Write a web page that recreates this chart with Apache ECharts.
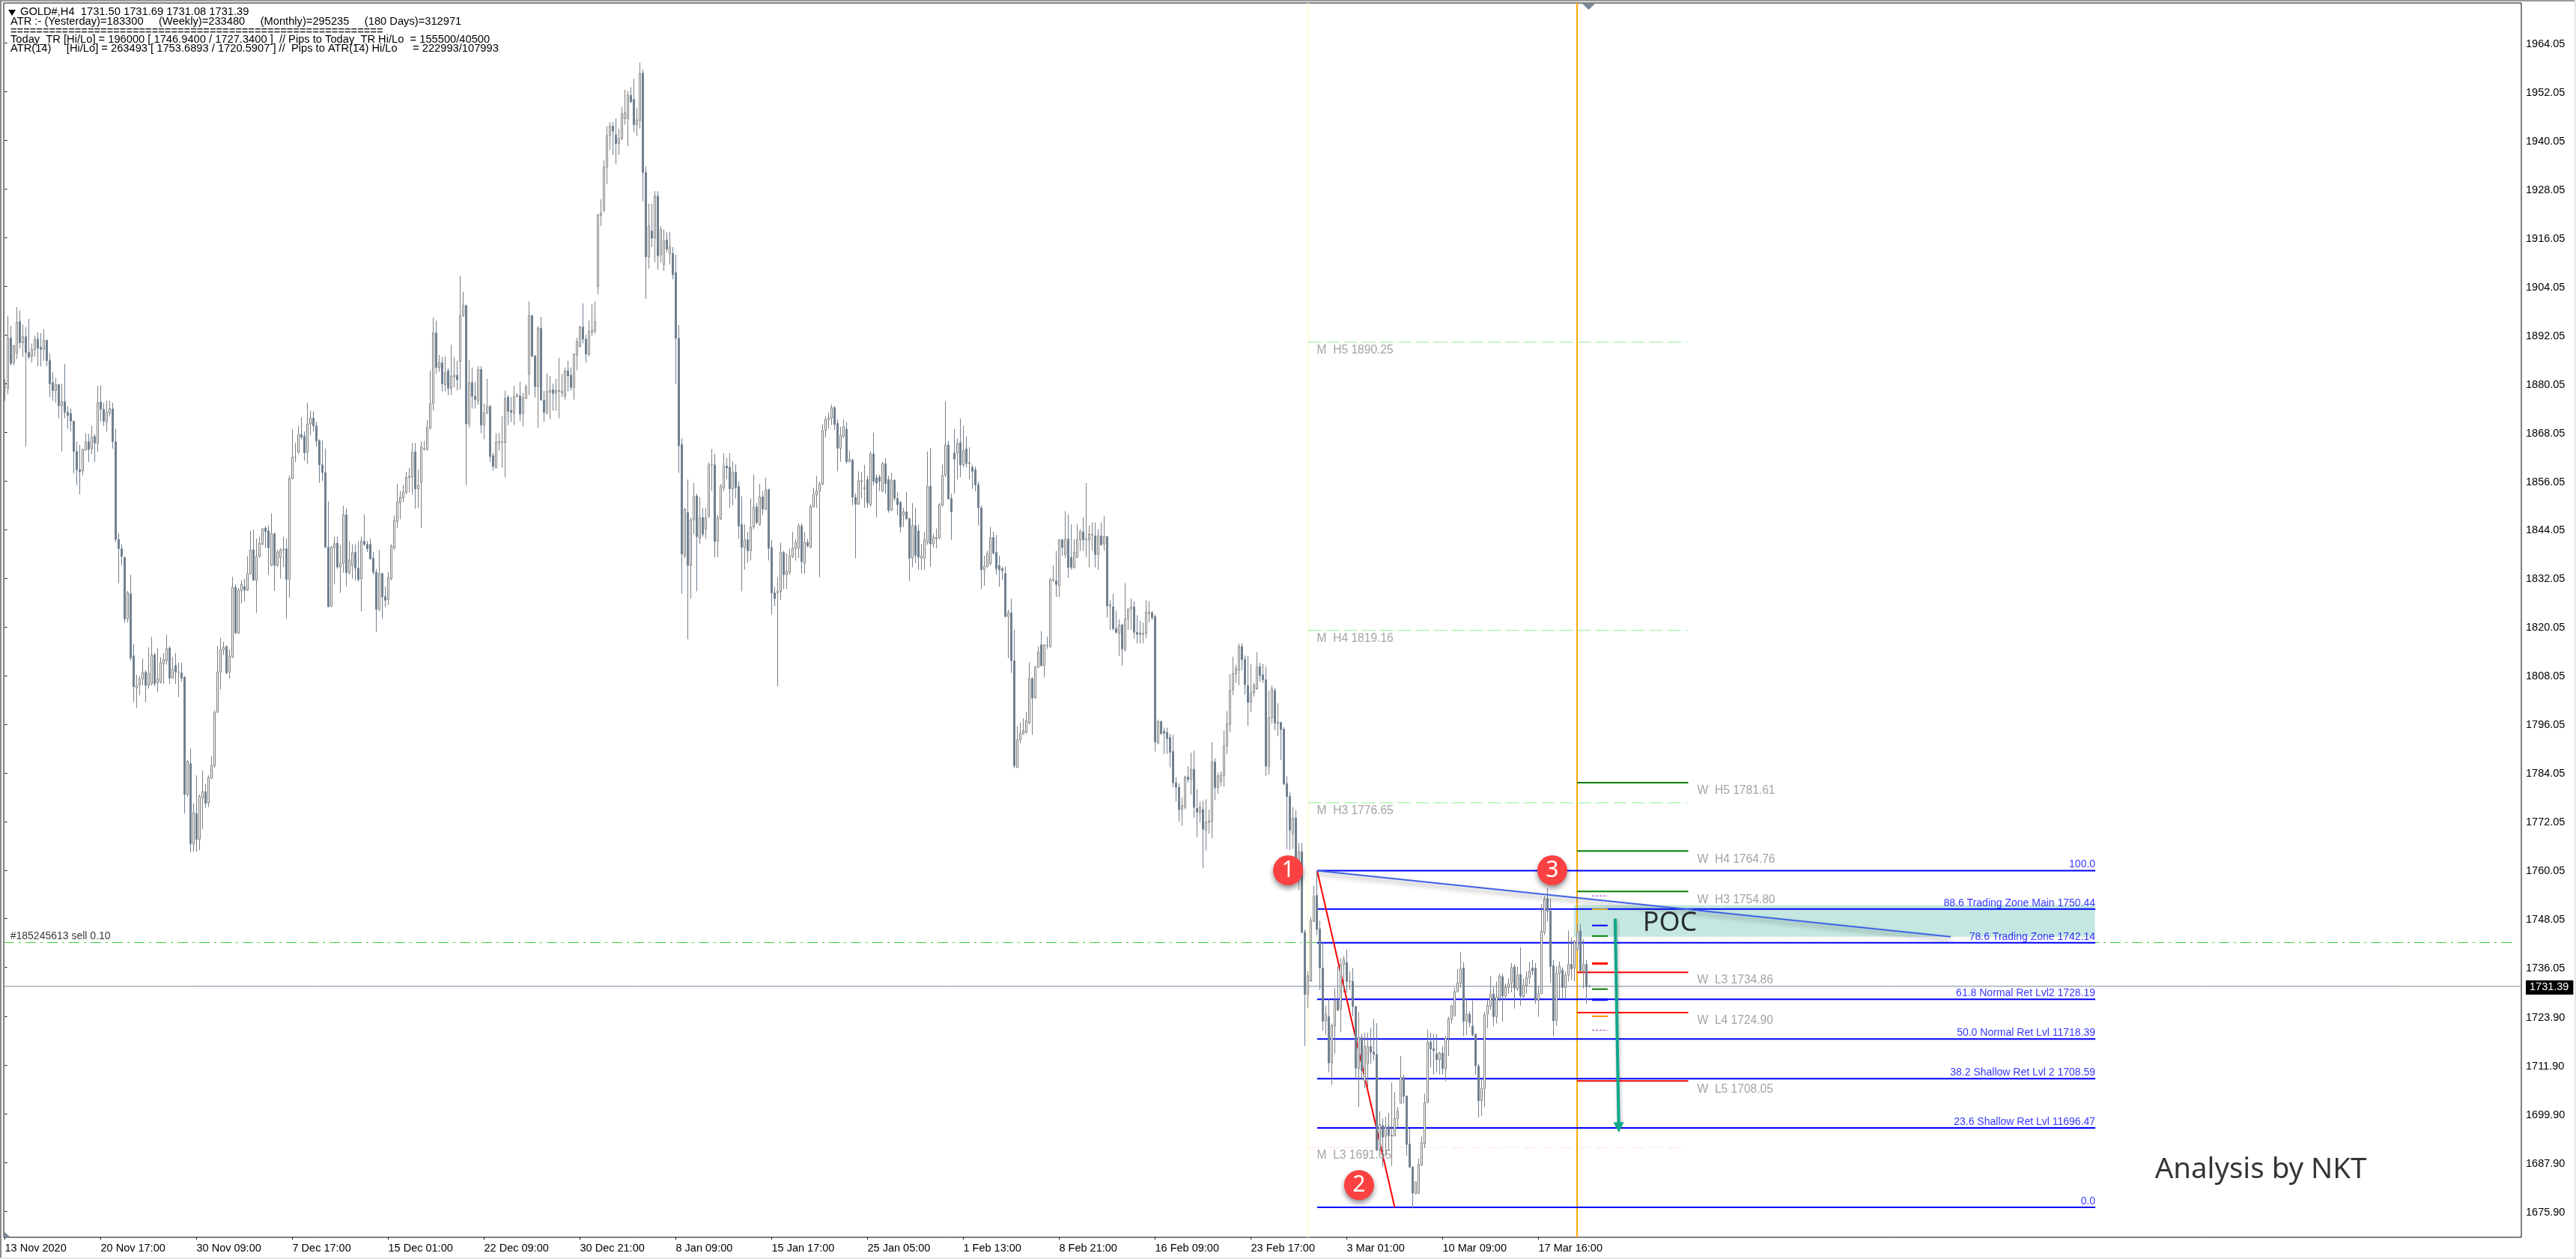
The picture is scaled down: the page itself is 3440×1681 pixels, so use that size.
<!DOCTYPE html>
<html>
<head>
<meta charset="utf-8">
<title>GOLD#,H4</title>
<script src="https://cdn.jsdelivr.net/npm/echarts@6/dist/echarts.min.js"></script>
<style>
  html, body { margin: 0; padding: 0; background: #fff; }
  #chart { width: 3440px; height: 1681px; }
</style>
</head>
<body>
<div id="chart"></div>
<script>
// H4 bars, bar index 0..529
const opens = [
1879.2,1878.8,1891.3,1885.2,1887.6,1895.3,1890.1,1891.6,1887.7,1886.8,
1888.5,1891.0,1889.0,1888.5,1890.7,1885.7,1880.3,1878.3,1879.8,1874.6,
1875.6,1873.0,1872.7,1870.8,1863.3,1858.8,1858.5,1863.7,1865.7,1864.0,
1867.0,1865.4,1875.5,1873.7,1870.6,1872.8,1873.8,1865.7,1841.6,1839.3,
1837.1,1822.0,1828.2,1812.9,1805.0,1805.8,1807.2,1808.9,1805.6,1806.0,
1813.1,1806.3,1806.5,1811.0,1811.7,1814.8,1807.4,1810.5,1808.9,1808.7,
1807.6,1778.7,1786.3,1766.5,1774.0,1767.7,1777.8,1779.4,1776.6,1782.7,
1785.8,1799.0,1808.9,1814.3,1815.2,1808.9,1812.6,1829.8,1818.5,1828.9,
1830.0,1829.1,1833.1,1839.0,1831.5,1837.4,1840.4,1844.4,1843.7,1835.2,
1843.0,1835.2,1837.1,1839.0,1839.3,1831.7,1856.6,1861.9,1863.2,1867.5,
1867.1,1863.0,1870.1,1871.5,1869.6,1866.0,1860.0,1858.1,1839.7,1825.2,
1839.5,1840.7,1834.8,1835.7,1847.7,1833.4,1835.1,1838.4,1834.5,1831.9,
1841.2,1840.4,1840.4,1837.0,1833.5,1824.4,1833.2,1827.5,1826.8,1831.9,
1839.5,1846.0,1850.6,1851.9,1853.2,1856.9,1857.0,1863.2,1854.1,1855.7,
1863.8,1863.8,1869.1,1875.1,1892.5,1884.0,1885.2,1879.8,1883.2,1878.9,
1881.7,1882.1,1885.5,1896.8,1899.3,1870.1,1880.3,1876.9,1875.8,1883.5,
1869.8,1872.8,1874.4,1862.3,1859.3,1865.4,1865.6,1865.5,1876.7,1873.4,
1872.7,1876.8,1877.0,1872.7,1876.4,1882.4,1896.8,1886.8,1879.3,1893.7,
1876.0,1872.7,1877.9,1878.5,1877.6,1878.1,1877.7,1877.0,1883.2,1882.1,
1879.1,1887.1,1889.2,1894.0,1891.0,1887.3,1892.7,1893.0,1903.9,1921.5,
1922.8,1933.4,1941.2,1943.5,1941.4,1939.2,1940.5,1945.4,1945.4,1951.1,
1950.1,1943.9,1944.9,1956.6,1932.1,1911.3,1917.7,1915.9,1926.3,1911.8,
1909.4,1915.5,1912.1,1912.1,1907.4,1891.2,1865.0,1837.6,1848.2,1835.2,
1846.4,1852.3,1841.9,1847.0,1844.1,1847.3,1860.0,1860.0,1841.1,1846.7,
1854.3,1859.7,1859.4,1854.1,1858.2,1854.7,1845.3,1839.6,1841.5,1838.8,
1844.7,1849.6,1845.3,1852.1,1849.1,1853.9,1839.6,1828.4,1828.4,1828.8,
1838.4,1832.9,1833.5,1837.4,1839.4,1839.4,1844.9,1835.8,1840.9,1839.6,
1849.7,1852.6,1853.5,1855.3,1868.5,1871.2,1871.5,1874.1,1870.2,1864.1,
1867.0,1868.8,1860.8,1861.2,1852.0,1850.3,1855.9,1854.1,1856.4,1850.2,
1862.7,1856.8,1857.0,1853.5,1860.3,1856.4,1848.8,1856.2,1851.7,1850.8,
1847.6,1848.4,1846.7,1837.0,1845.0,1843.7,1837.0,1837.0,1840.8,1854.7,
1840.5,1841.7,1842.0,1850.0,1857.4,1864.9,1851.7,1862.9,1862.9,1865.5,
1860.0,1863.9,1860.3,1859.4,1858.8,1855.1,1849.4,1834.1,1834.9,1835.6,
1842.1,1838.4,1835.2,1834.4,1833.2,1822.6,1823.5,1811.7,1785.4,1792.2,
1793.7,1794.0,1796.4,1807.3,1802.5,1810.1,1815.6,1810.5,1815.5,1815.2,
1831.5,1831.4,1830.2,1841.5,1837.9,1841.7,1837.2,1834.7,1837.2,1841.5,
1843.5,1841.5,1841.5,1842.7,1842.5,1837.9,1842.5,1840.5,1842.3,1825.2,
1825.0,1819.6,1818.5,1820.5,1814.4,1822.0,1824.4,1825.0,1818.7,1818.5,
1818.2,1818.4,1823.3,1823.5,1822.6,1791.4,1796.7,1794.3,1794.0,1792.8,
1789.3,1781.6,1780.5,1775.0,1775.6,1783.0,1782.4,1784.9,1775.3,1774.3,
1775.0,1769.9,1771.9,1772.1,1786.7,1780.4,1781.9,1783.3,1790.7,1796.0,
1804.6,1808.5,1809.3,1815.2,1812.0,1805.6,1801.5,1803.8,1804.7,1810.2,
1808.2,1807.0,1785.6,1797.6,1804.3,1796.3,1796.5,1794.8,1781.4,1778.2,
1769.0,1772.9,1762.2,1764.6,1744.7,1729.4,1732.7,1747.4,1753.8,1745.6,
1735.9,1722.8,1723.9,1712.5,1721.6,1727.9,1725.8,1736.7,1737.3,1732.6,
1732.6,1726.4,1711.1,1718.8,1708.0,1712.3,1716.5,1715.2,1714.6,1691.0,
1697.1,1694.4,1696.8,1694.5,1694.5,1698.8,1702.6,1708.9,1704.3,1692.5,
1686.8,1680.3,1680.3,1687.3,1692.6,1702.7,1717.6,1716.0,1714.8,1713.3,
1714.9,1711.1,1718.5,1723.3,1724.2,1730.0,1732.1,1735.9,1722.8,1724.5,
1721.6,1719.6,1711.7,1703.2,1706.2,1724.5,1726.5,1729.5,1723.9,1728.6,
1733.8,1729.0,1731.1,1732.2,1736.2,1730.8,1734.3,1728.8,1731.6,1733.5,
1735.9,1735.9,1728.0,1729.6,1744.7,1753.0,1750.0,1736.5,1722.9,1734.6,
1735.4,1731.1,1734.2,1736.8,1735.9,1740.4,1745.1,1735.2,1736.8,1731.5
];
const closes = [
1879.1,1891.3,1885.0,1889.4,1895.1,1890.1,1891.6,1887.7,1886.6,1888.5,
1891.0,1888.8,1888.5,1890.7,1885.7,1880.0,1878.3,1879.8,1874.6,1875.6,
1872.9,1872.2,1870.8,1863.3,1858.8,1858.3,1863.8,1865.7,1863.8,1866.8,
1865.4,1875.3,1873.7,1870.8,1873.1,1873.9,1865.7,1841.6,1839.3,1837.4,
1822.0,1828.5,1812.4,1805.3,1805.6,1807.2,1808.9,1805.6,1808.6,1813.1,
1806.0,1807.2,1811.2,1812.0,1814.7,1807.4,1809.6,1808.9,1808.9,1807.4,
1778.7,1786.9,1766.5,1774.2,1767.6,1778.2,1779.4,1776.5,1782.9,1785.9,
1799.0,1808.9,1814.5,1815.0,1808.7,1812.8,1829.8,1818.5,1829.1,1830.5,
1829.1,1833.2,1839.0,1831.5,1837.4,1840.7,1844.2,1843.5,1839.5,1843.0,
1835.2,1838.5,1839.0,1839.2,1831.7,1856.6,1861.9,1861.9,1867.5,1866.8,
1863.0,1870.1,1871.5,1869.6,1865.9,1860.0,1858.1,1839.7,1825.0,1839.7,
1840.6,1834.8,1835.7,1847.7,1833.4,1836.5,1838.3,1834.5,1831.7,1841.2,
1840.4,1839.3,1836.8,1833.5,1824.4,1833.2,1827.4,1826.6,1832.2,1840.0,
1846.3,1850.8,1852.0,1853.3,1856.9,1857.2,1863.0,1854.1,1855.0,1864.5,
1864.0,1869.2,1875.1,1892.5,1884.0,1885.2,1880.0,1882.7,1878.9,1881.9,
1882.1,1881.0,1896.8,1899.3,1870.1,1880.3,1876.9,1876.1,1883.5,1869.8,
1872.8,1874.4,1862.1,1859.6,1865.6,1865.7,1865.7,1876.4,1873.2,1872.9,
1876.8,1877.2,1872.5,1876.6,1879.3,1896.8,1886.8,1879.3,1893.7,1876.0,
1872.9,1878.1,1878.4,1877.6,1878.4,1878.3,1878.2,1883.1,1881.9,1879.1,
1887.3,1890.4,1894.1,1891.0,1887.3,1892.9,1893.2,1895.3,1921.7,1922.1,
1933.4,1941.2,1943.5,1942.3,1939.2,1940.5,1946.6,1946.8,1951.2,1949.5,
1943.9,1945.1,1956.5,1932.1,1911.3,1918.9,1915.9,1926.3,1911.5,1918.1,
1915.3,1913.2,1913.8,1906.9,1891.2,1864.7,1838.0,1849.0,1835.2,1846.4,
1852.3,1842.3,1847.0,1842.9,1847.0,1860.0,1860.1,1841.1,1847.0,1854.7,
1859.7,1859.2,1854.1,1858.2,1854.4,1844.9,1839.6,1841.5,1838.8,1844.7,
1849.6,1845.8,1852.1,1849.1,1853.9,1839.4,1828.4,1827.0,1828.8,1838.4,
1832.9,1833.7,1837.6,1839.4,1840.9,1844.9,1836.1,1840.9,1840.0,1849.7,
1852.7,1853.5,1855.3,1868.5,1871.2,1871.5,1874.1,1870.0,1864.1,1867.3,
1869.4,1860.8,1861.4,1852.0,1850.3,1856.1,1856.1,1854.4,1850.6,1862.7,
1855.9,1855.5,1855.9,1860.3,1855.3,1848.8,1856.2,1851.7,1850.2,1844.7,
1848.4,1846.7,1837.0,1845.0,1837.6,1837.2,1837.5,1841.5,1854.7,1840.5,
1842.2,1842.1,1850.2,1857.4,1864.9,1851.6,1848.4,1861.4,1865.3,1860.0,
1863.5,1860.3,1860.6,1858.4,1855.0,1849.4,1834.1,1835.0,1838.2,1842.1,
1838.2,1834.4,1834.1,1833.9,1822.6,1823.5,1811.7,1785.8,1792.2,1793.7,
1794.4,1796.9,1807.3,1802.5,1810.1,1813.8,1810.5,1815.6,1815.5,1831.7,
1831.7,1830.5,1841.5,1839.6,1841.7,1834.7,1834.7,1838.4,1841.5,1843.5,
1841.5,1841.7,1842.9,1842.9,1837.9,1842.5,1840.3,1842.3,1825.2,1825.5,
1819.6,1818.7,1820.5,1814.6,1822.0,1824.4,1825.0,1818.7,1818.2,1818.2,
1818.5,1823.7,1823.7,1822.3,1791.7,1796.7,1793.7,1793.8,1792.5,1789.1,
1781.6,1780.5,1775.0,1776.0,1783.0,1782.4,1784.9,1775.5,1774.3,1775.6,
1770.1,1771.9,1772.2,1786.7,1780.4,1783.3,1783.5,1790.7,1796.1,1804.4,
1808.5,1809.8,1815.2,1812.0,1805.8,1801.4,1803.8,1805.6,1810.2,1808.0,
1807.0,1785.7,1797.6,1804.7,1796.3,1796.5,1794.7,1781.3,1778.2,1769.9,
1772.9,1762.2,1764.6,1744.7,1729.4,1734.0,1747.6,1753.6,1745.4,1735.9,
1722.8,1724.5,1712.5,1721.7,1727.9,1725.5,1736.7,1738.0,1732.6,1732.7,
1726.4,1711.2,1718.8,1710.6,1716.6,1716.5,1715.1,1714.6,1691.0,1697.3,
1694.2,1696.8,1694.6,1694.7,1698.8,1700.6,1708.9,1704.3,1692.4,1686.8,
1680.4,1683.1,1687.4,1692.8,1702.7,1717.7,1715.9,1715.5,1713.3,1714.9,
1711.1,1718.6,1723.3,1726.6,1730.1,1732.2,1735.7,1722.8,1724.5,1722.4,
1719.4,1711.8,1703.2,1706.2,1724.3,1726.7,1729.5,1723.9,1728.8,1733.9,
1729.0,1731.2,1732.0,1736.0,1730.9,1734.2,1729.0,1731.7,1733.6,1735.2,
1735.2,1728.0,1729.6,1745.0,1752.9,1749.9,1736.3,1722.9,1734.6,1736.3,
1731.1,1734.2,1736.8,1735.7,1742.5,1744.8,1735.2,1736.8,1731.3,1731.39
];
const lows = [
1875.8,1877.4,1884.5,1884.5,1886.1,1888.7,1886.6,1864.5,1886.1,1885.2,
1886.6,1884.3,1884.3,1885.7,1884.3,1876.7,1875.8,1875.3,1871.5,1863.3,
1871.5,1868.9,1868.2,1857.9,1855.0,1852.7,1857.4,1863.5,1860.7,1862.6,
1860.7,1863.2,1870.6,1869.6,1868.2,1872.0,1864.0,1840.9,1830.8,1835.2,
1821.1,1821.1,1811.7,1801.5,1800.1,1803.2,1805.6,1801.5,1804.8,1805.6,
1805.4,1803.9,1806.0,1806.0,1810.7,1806.0,1807.3,1806.0,1802.7,1806.5,
1774.0,1778.2,1764.4,1764.6,1764.6,1765.0,1770.2,1775.4,1775.6,1782.5,
1785.3,1798.8,1804.6,1813.1,1808.4,1807.3,1812.3,1818.3,1818.3,1825.8,
1826.3,1828.9,1832.9,1831.5,1823.5,1837.1,1840.2,1839.5,1832.9,1835.0,
1828.9,1834.8,1831.9,1834.8,1822.0,1827.2,1856.5,1860.7,1862.6,1866.3,
1861.0,1860.2,1867.3,1868.2,1864.5,1855.5,1856.0,1839.5,1824.9,1824.9,
1830.5,1834.3,1828.4,1833.4,1830.0,1832.9,1831.9,1831.5,1831.2,1823.9,
1840.0,1838.5,1836.7,1832.9,1818.8,1823.9,1822.0,1824.9,1825.4,1831.5,
1839.0,1844.4,1846.6,1850.8,1852.7,1853.2,1852.7,1849.2,1849.4,1844.4,
1863.5,1863.5,1868.7,1873.4,1882.4,1882.9,1878.1,1878.1,1877.2,1877.2,
1879.1,1878.3,1878.6,1896.5,1855.0,1869.2,1873.9,1873.9,1874.8,1867.8,
1866.3,1872.5,1860.7,1858.6,1859.1,1863.5,1859.3,1856.9,1869.8,1870.6,
1869.8,1876.7,1870.8,1869.5,1876.2,1877.2,1886.6,1876.6,1869.2,1875.8,
1870.6,1872.5,1871.3,1873.4,1873.4,1871.5,1876.7,1876.1,1878.1,1878.3,
1876.1,1883.3,1889.0,1889.9,1885.2,1886.8,1891.8,1892.3,1902.1,1918.9,
1922.3,1929.2,1937.7,1936.4,1934.1,1936.4,1940.1,1943.9,1938.6,1949.3,
1942.0,1941.1,1942.9,1925.0,1900.9,1908.4,1913.7,1910.0,1908.1,1910.0,
1907.8,1912.4,1909.4,1905.8,1880.0,1858.0,1828.2,1837.0,1817.0,1827.0,
1842.9,1828.8,1840.5,1842.3,1841.7,1847.0,1853.5,1837.2,1837.2,1846.4,
1853.5,1856.4,1849.4,1850.0,1851.7,1841.7,1828.8,1834.1,1835.8,1836.4,
1844.1,1845.3,1845.0,1847.6,1848.8,1836.4,1823.1,1825.2,1805.4,1826.6,
1829.4,1829.4,1832.9,1837.0,1836.4,1837.0,1833.2,1833.2,1839.6,1839.4,
1849.5,1849.4,1832.3,1854.9,1866.7,1869.0,1869.8,1868.6,1858.4,1860.8,
1866.7,1860.3,1860.6,1850.0,1837.0,1850.2,1851.7,1849.4,1849.4,1849.7,
1854.9,1847.0,1853.5,1853.3,1852.9,1848.2,1848.6,1851.1,1847.6,1843.3,
1844.7,1846.4,1831.4,1834.7,1835.8,1834.1,1834.1,1834.1,1840.3,1834.9,
1839.6,1839.4,1841.7,1849.7,1857.0,1851.4,1841.5,1852.9,1856.4,1857.0,
1859.4,1859.4,1856.4,1854.1,1853.5,1845.0,1829.4,1830.2,1834.7,1835.2,
1837.9,1832.9,1829.9,1831.7,1822.3,1812.3,1808.7,1785.2,1785.2,1791.3,
1793.4,1793.7,1796.0,1793.4,1802.3,1809.9,1810.2,1807.6,1814.6,1814.9,
1831.1,1827.4,1827.4,1837.6,1837.0,1832.1,1834.1,1834.4,1837.0,1838.8,
1838.8,1837.2,1834.7,1838.8,1834.7,1834.1,1840.0,1838.8,1822.3,1819.3,
1819.1,1818.4,1812.9,1810.5,1814.0,1819.3,1819.3,1817.2,1816.0,1816.0,
1816.0,1817.2,1821.1,1821.7,1789.3,1791.1,1793.4,1788.7,1788.7,1785.4,
1780.5,1777.0,1772.0,1771.0,1775.0,1781.6,1778.7,1773.0,1768.2,1771.8,
1760.5,1764.9,1769.0,1767.9,1777.3,1778.8,1780.7,1780.6,1788.7,1794.1,
1803.2,1806.2,1805.6,1809.3,1803.3,1795.6,1799.0,1802.9,1804.6,1806.5,
1806.2,1783.3,1783.6,1796.2,1794.5,1793.1,1787.2,1781.0,1765.2,1765.0,
1765.3,1761.0,1755.1,1744.4,1716.7,1726.1,1732.5,1747.3,1744.0,1730.5,
1720.5,1719.4,1710.2,1707.1,1714.8,1725.3,1720.0,1729.9,1729.9,1730.5,
1724.0,1708.2,1701.6,1708.3,1706.3,1706.5,1712.3,1713.0,1690.8,1690.8,
1686.8,1689.6,1690.8,1687.1,1694.4,1696.5,1702.5,1702.5,1689.6,1686.6,
1676.6,1680.1,1680.2,1687.1,1691.5,1702.6,1711.4,1709.6,1710.2,1709.6,
1709.6,1708.0,1714.2,1722.2,1723.9,1729.9,1731.1,1719.1,1719.4,1721.3,
1719.1,1709.6,1699.0,1699.4,1701.7,1721.1,1725.6,1721.6,1722.2,1727.7,
1722.7,1728.0,1729.6,1729.9,1725.9,1730.2,1726.6,1728.6,1729.6,1731.9,
1734.2,1727.1,1723.9,1729.5,1744.0,1747.3,1732.3,1719.1,1721.6,1728.3,
1728.3,1728.3,1732.6,1733.0,1732.6,1740.0,1735.1,1730.8,1727.1,1731.08
];
const highs = [
1881.1,1896.8,1894.3,1889.6,1898.9,1898.1,1894.6,1894.0,1896.0,1889.9,
1891.8,1892.7,1892.5,1893.4,1890.9,1887.5,1882.8,1881.4,1880.0,1880.0,
1884.9,1874.4,1873.9,1870.8,1865.7,1864.9,1864.0,1867.8,1867.6,1869.6,
1867.6,1879.5,1879.6,1875.3,1875.8,1875.8,1875.3,1868.9,1843.1,1840.4,
1837.4,1828.9,1832.9,1815.9,1808.2,1807.9,1812.2,1809.3,1815.0,1817.6,
1813.6,1814.8,1812.6,1813.6,1818.1,1815.2,1812.6,1813.6,1811.2,1811.2,
1807.9,1787.2,1790.0,1776.5,1783.4,1778.7,1784.6,1781.3,1783.4,1788.1,
1799.4,1815.3,1817.3,1816.4,1815.5,1814.5,1832.4,1830.5,1829.6,1831.5,
1831.9,1837.4,1843.7,1844.0,1841.8,1842.3,1844.4,1844.9,1845.1,1848.0,
1843.3,1839.0,1839.5,1842.3,1841.8,1857.4,1868.7,1865.4,1869.6,1871.7,
1868.2,1875.3,1873.4,1873.2,1870.6,1866.3,1866.0,1864.0,1851.0,1840.0,
1842.3,1842.3,1840.2,1849.9,1849.2,1841.2,1840.4,1840.4,1841.2,1842.3,
1847.8,1841.2,1841.8,1838.5,1834.3,1839.0,1833.4,1830.0,1833.6,1840.4,
1847.5,1855.3,1853.6,1855.0,1858.3,1859.3,1865.4,1865.4,1858.8,1865.7,
1865.9,1871.1,1883.3,1896.3,1895.6,1887.1,1886.6,1886.8,1883.8,1889.6,
1886.6,1885.7,1906.6,1902.7,1899.5,1885.9,1884.0,1880.5,1884.3,1884.3,
1875.1,1881.2,1874.8,1863.0,1867.8,1867.8,1872.0,1878.3,1877.2,1876.7,
1879.5,1877.7,1880.5,1877.7,1879.8,1900.3,1897.0,1887.1,1894.2,1896.5,
1878.3,1882.6,1881.9,1880.0,1881.2,1886.4,1882.4,1884.0,1885.7,1884.0,
1887.5,1891.3,1894.3,1899.8,1892.1,1895.6,1899.6,1900.3,1921.8,1925.5,
1935.1,1943.5,1944.5,1944.5,1945.4,1942.9,1948.3,1952.5,1952.2,1953.1,
1955.2,1948.1,1959.2,1957.5,1933.7,1924.4,1924.4,1927.5,1927.5,1918.9,
1918.0,1917.4,1917.4,1913.7,1911.8,1894.5,1866.5,1849.4,1856.4,1847.0,
1855.5,1852.9,1852.0,1849.4,1849.4,1860.6,1863.9,1862.7,1847.6,1855.3,
1862.9,1861.7,1862.9,1860.8,1860.2,1855.9,1852.3,1845.3,1843.5,1851.7,
1857.6,1850.6,1855.3,1853.5,1856.8,1854.1,1841.5,1829.9,1832.3,1840.8,
1838.8,1838.2,1839.4,1843.5,1841.7,1845.5,1845.5,1843.5,1841.7,1850.2,
1854.4,1857.3,1855.9,1870.0,1872.0,1872.9,1874.9,1874.5,1871.2,1869.4,
1871.2,1870.6,1863.5,1861.5,1852.9,1858.4,1858.2,1860.0,1857.3,1863.2,
1867.9,1857.6,1857.6,1860.8,1861.7,1857.3,1858.0,1856.4,1853.3,1851.1,
1849.4,1853.3,1847.0,1850.6,1849.4,1845.3,1840.5,1843.5,1863.3,1864.1,
1842.9,1844.3,1850.6,1860.0,1875.6,1865.9,1852.9,1868.8,1866.5,1871.4,
1869.6,1867.0,1864.3,1860.0,1859.6,1855.9,1850.0,1837.6,1838.8,1844.7,
1843.5,1842.7,1837.6,1834.9,1834.9,1824.3,1827.0,1819.3,1795.5,1796.4,
1797.5,1799.1,1811.3,1807.6,1810.5,1815.2,1819.0,1815.8,1817.6,1832.1,
1835.2,1838.8,1841.7,1841.7,1848.6,1847.8,1845.3,1841.7,1845.3,1844.1,
1847.0,1855.5,1845.0,1845.8,1845.8,1844.1,1845.8,1847.3,1842.5,1826.6,
1828.2,1824.0,1821.9,1820.8,1830.8,1824.6,1827.0,1826.4,1822.9,1821.5,
1821.1,1826.6,1826.4,1824.0,1823.1,1797.2,1796.9,1795.2,1795.2,1793.7,
1793.4,1783.0,1781.5,1778.0,1783.3,1785.7,1789.0,1789.5,1780.1,1776.9,
1777.1,1777.5,1775.0,1791.6,1787.6,1784.1,1784.4,1794.5,1799.3,1808.4,
1812.7,1810.7,1815.9,1816.0,1813.0,1812.8,1810.9,1806.2,1813.8,1811.2,
1810.9,1810.2,1804.3,1805.6,1805.0,1801.2,1796.6,1795.3,1783.2,1779.3,
1775.6,1774.8,1766.8,1766.8,1745.4,1735.1,1748.5,1756.2,1759.8,1747.6,
1742.4,1726.6,1728.3,1722.2,1730.9,1736.3,1738.3,1738.9,1740.5,1735.1,
1735.9,1726.6,1725.0,1719.7,1720.0,1720.0,1721.2,1723.3,1722.3,1700.6,
1698.8,1699.3,1700.2,1707.7,1705.3,1701.6,1714.2,1709.6,1704.5,1696.3,
1687.1,1683.3,1688.9,1694.4,1704.9,1720.7,1719.9,1719.7,1719.6,1715.3,
1716.6,1719.1,1723.9,1726.8,1731.1,1735.7,1739.9,1737.3,1728.2,1725.3,
1727.9,1719.7,1712.3,1708.3,1725.1,1728.0,1733.9,1731.3,1732.6,1734.5,
1734.5,1732.0,1733.3,1737.1,1736.8,1736.3,1741.0,1733.3,1735.1,1737.4,
1737.9,1737.1,1731.4,1751.7,1753.6,1755.6,1753.0,1737.9,1736.2,1737.5,
1736.0,1735.1,1745.2,1743.4,1742.8,1746.7,1746.8,1743.0,1737.9,1731.69
];

// axis labels
const timeLabels = ['13 Nov 2020','20 Nov 17:00','30 Nov 09:00','7 Dec 17:00','15 Dec 01:00','22 Dec 09:00',
  '30 Dec 21:00','8 Jan 09:00','15 Jan 17:00','25 Jan 05:00','1 Feb 13:00','8 Feb 21:00','16 Feb 09:00',
  '23 Feb 17:00','3 Mar 01:00','10 Mar 09:00','17 Mar 16:00'];
const priceTicks = [1964.05,1952.05,1940.05,1928.05,1916.05,1904.05,1892.05,1880.05,1868.05,1856.05,1844.05,
  1832.05,1820.05,1808.05,1796.05,1784.05,1772.05,1760.05,1748.05,1736.05,1723.90,1711.90,1699.90,1687.90,1675.90];
const lastPrice = 1731.39;
const sellPrice = 1742.2;

// fibonacci levels drawn on the chart
const fibPrices = [1759.9,1750.44,1742.14,1728.19,1718.39,1708.59,1696.47,1676.9];
const fibLabels = ['100.0','88.6 Trading Zone Main 1750.44','78.6 Trading Zone 1742.14','61.8 Normal Ret Lvl2 1728.19',
  '50.0 Normal Ret Lvl 11718.39','38.2 Shallow Ret Lvl 2 1708.59','23.6 Shallow Ret Lvl 11696.47','0.0'];
const fibFrom = 438.1, fibTo = 697.9;

// weekly and monthly pivots
const weeklyPrices = [1781.61,1764.76,1754.80,1734.86,1724.90,1708.05];
const weeklyLabels = ['W  H5 1781.61','W  H4 1764.76','W  H3 1754.80','W  L3 1734.86','W  L4 1724.90','W  L5 1708.05'];
const weeklyColors = ['#008000','#008000','#008000','#ff0000','#ff0000','#ff0000'];
const weeklyFrom = 524.9, weeklyTo = 562;
const monthlyPrices = [1890.25,1819.16,1776.65,1691.65];
const monthlyLabels = ['M  H5 1890.25','M  H4 1819.16','M  H3 1776.65','M  L3 1691.65'];
const monthlyColors = ['#90ee90','#90ee90','#90ee90','#ffe4e1'];
const monthlyFrom = 435, monthlyTo = 561.7;

// short daily ticks to the right of the last bar
const dailyPrices = [1753.69,1750.4,1746.4,1743.8,1737.0,1730.7,1728.1,1724.0,1720.59];
const dailyColors = ['#9932cc','#daa520','#0000ff','#008000','#ff0000','#008000','#0000ff','#ff8c00','#9932cc'];
const dailyWidths = [1,2,2,2,3,2,3,2,1];
const dailyFrom = 529.9, dailyTo = 535.1;

// vertical separators, as bar index
const dayLine = 435.2, weekLine = 524.9;

// hand drawn annotations
const redTrendX = [438.1,464], redTrendY = [1759.9,1676.9];
const blueTrendX = [438.1,649.6], blueTrendY = [1759.9,1743.6];
const arrowX = [537.6,538.8], arrowY = [1748.1,1696.6];
const zoneX = [523.8,697.8], zoneY = [1751.4,1743.6];
const badgeX = [428.4,452.1,516.6], badgeY = [1760,1682.4,1760], badgeText = ['1','2','3'];

const yMin = 1669.5, yMax = 1973.9;
const xMin = -0.375, xMax = 840.125;

const labelFont = '"Liberation Sans", sans-serif';
const chart = echarts.init(document.getElementById('chart'), null, { renderer: 'canvas' });

// flat segment between two bar positions
function segment(name, from, to, price, color, width, type, z) {
  return {
    name: name, type: 'line', silent: true, animation: false, showSymbol: false, symbol: 'none', z: z || 2,
    data: [[from, price], [to, price]],
    lineStyle: { color: color, width: width, type: type || 'solid', cap: 'butt' }
  };
}
// text pinned to a bar position and a price
function tag(text, x, price, pos, offset, color, size, font, z) {
  return {
    name: text, type: 'scatter', silent: true, animation: false, symbolSize: 0, z: z || 2,
    data: [[x, price]],
    label: { show: true, formatter: text, position: pos, distance: 0, offset: offset, color: color,
      fontSize: size, fontFamily: font || labelFont }
  };
}

const series = [];

// vertical period separators
series.push({ type: 'line', silent: true, symbol: 'none', animation: false, z: 2,
  data: [[dayLine, yMin], [dayLine, yMax]], lineStyle: { color: '#fdfbd6', width: 2 } });
series.push({ type: 'line', silent: true, symbol: 'none', animation: false, z: 2,
  data: [[weekLine, yMin], [weekLine, yMax]], lineStyle: { color: '#ffa500', width: 2 } });

// order and price lines
series.push(segment('sell', xMin, 838.5, sellPrice, '#32cd32', 1, [14, 6, 3, 6]));
series.push(segment('last', xMin, xMax, lastPrice, '#778899', 1));
series.push(tag('#185245613 sell 0.10', 1.8, sellPrice, 'right', [0, -8], '#000', 14));

monthlyPrices.forEach((p, i) => {
  series.push(segment('m' + i, monthlyFrom, monthlyTo, p, monthlyColors[i], 1, [18, 6]));
  series.push(tag(monthlyLabels[i], 438, p, 'right', [0, 11], '#8c8c8c', 15.6));
});
weeklyPrices.forEach((p, i) => {
  series.push(segment('w' + i, weeklyFrom, weeklyTo, p, weeklyColors[i], 2));
  series.push(tag(weeklyLabels[i], 565, p, 'right', [0, 11], '#8c8c8c', 15.6));
});
fibPrices.forEach((p, i) => {
  series.push(segment('f' + i, fibFrom, fibTo, p, '#0000ff', 2));
  series.push(tag(fibLabels[i], fibTo, p, 'left', [0, -8], '#0000ff', 14));
});
dailyPrices.forEach((p, i) => {
  series.push(segment('d' + i, dailyFrom, dailyTo, p, dailyColors[i], dailyWidths[i],
    dailyWidths[i] === 1 ? [3, 2] : 'solid'));
});
series.push({ type: 'line', silent: true, symbol: 'none', animation: false, z: 2,
  data: redTrendX.map((x, i) => [x, redTrendY[i]]), lineStyle: { color: '#ff0000', width: 2 } });

// the bars
series.push({
  name: 'GOLD#,H4', type: 'candlestick', animation: false, silent: true, z: 5, barWidth: 3,
  data: opens.map((o, i) => [i, o, closes[i], lows[i], highs[i]]),
  itemStyle: { color: '#ffffff', color0: '#708090', borderColor: '#808080', borderColor0: '#708090', borderWidth: 1 }
});

// trading zone box, drawn over the bars
series.push({ type: 'line', silent: true, symbol: 'none', animation: false, z: 6, data: [],
  markArea: { silent: true, animation: false, itemStyle: { color: 'rgba(20,165,135,0.25)' },
    data: [[{ xAxis: zoneX[0], yAxis: zoneY[0] }, { xAxis: zoneX[1], yAxis: zoneY[1] }]] } });

series.push({ type: 'line', silent: true, symbol: 'none', animation: false, z: 7,
  data: blueTrendX.map((x, i) => [x, blueTrendY[i]]),
  lineStyle: { color: '#3f63e8', width: 2, shadowColor: 'rgba(0,0,0,0.45)', shadowBlur: 6, shadowOffsetY: 4 } });

series.push({ type: 'line', silent: true, symbol: 'none', animation: false, z: 8, data: [],
  markLine: { silent: true, animation: false, symbol: ['none', 'triangle'], symbolSize: 14, label: { show: false },
    lineStyle: { color: '#0fa78a', width: 4, type: 'solid', shadowColor: 'rgba(0,0,0,0.3)', shadowBlur: 4, shadowOffsetX: 1, shadowOffsetY: 2 },
    data: [[{ coord: [arrowX[0], arrowY[0]] }, { coord: [arrowX[1], arrowY[1]] }]] } });

series.push({
  type: 'scatter', silent: true, animation: false, z: 9, symbolSize: 40,
  data: badgeX.map((x, i) => ({ value: [x, badgeY[i]], label: { formatter: badgeText[i] } })),
  itemStyle: { color: '#fb4141', opacity: 1, shadowColor: 'rgba(0,0,0,0.45)', shadowBlur: 7, shadowOffsetY: 4 },
  label: { show: true, position: 'inside', color: '#fff', fontSize: 30, fontFamily: '"Noto Sans", sans-serif' }
});
series.push(tag('POC', 546.8, 1746.9, 'right', [0, 0], '#000', 36, '"Noto Sans", sans-serif', 9));
series.push(tag('Analysis by NKT', 717.8, 1686.1, 'right', [0, 0], '#000', 38.4, '"Noto Sans", sans-serif', 9));

// header and window edges sit outside the data space
const headerLines = [
  [27, 16, 'GOLD#,H4  1731.50 1731.69 1731.08 1731.39'],
  [14, 29, 'ATR :- (Yesterday)=183300     (Weekly)=233480     (Monthly)=295235     (180 Days)=312971'],
  [14, 42, '=========================================================='],
  [14, 53, 'Today_TR [Hi/Lo] = 196000 [ 1746.9400 / 1727.3400 ]  // Pips to Today_TR Hi/Lo  = 155500/40500'],
  [14, 65, 'ATR(14)     [Hi/Lo] = 263493 [ 1753.6893 / 1720.5907 ] //  Pips to ATR(14) Hi/Lo     = 222993/107993']
];
const graphic = headerLines.map(l => ({
  type: 'text', x: l[0], y: l[1], z: 20, silent: true,
  style: { text: l[2], fill: '#000', font: '14.7px ' + labelFont, textVerticalAlign: 'middle' }
}));
graphic.push(
  { type: 'rect', shape: { x: 0, y: 0, width: 3440, height: 2 }, style: { fill: '#9a9a9a' }, silent: true },
  { type: 'rect', shape: { x: 0, y: 0, width: 2, height: 1681 }, style: { fill: '#8a8a8a' }, silent: true },
  { type: 'rect', shape: { x: 0, y: 1679, width: 3440, height: 2 }, style: { fill: '#e6e6e6' }, silent: true },
  { type: 'rect', shape: { x: 3438, y: 0, width: 2, height: 1681 }, style: { fill: '#e6e6e6' }, silent: true },
  { type: 'polygon', shape: { points: [[11, 13], [21, 13], [16, 21]] }, style: { fill: '#000' }, silent: true },
  { type: 'polygon', shape: { points: [[2113, 5], [2130, 5], [2121.5, 13]] }, style: { fill: '#778899' }, silent: true },
  { type: 'polygon', shape: { points: [[5, 1644], [14, 1652], [5, 1652]] }, style: { fill: '#778899' }, silent: true }
);

chart.setOption({
  backgroundColor: '#ffffff',
  animation: false,
  grid: { left: 5, right: 73, top: 4, bottom: 29, show: true, backgroundColor: '#fff', borderColor: '#000', borderWidth: 1 },
  xAxis: {
    type: 'value', min: xMin, max: xMax, splitLine: { show: false }, axisLine: { show: false },
    axisTick: { show: true, length: 3, lineStyle: { color: '#000' }, customValues: timeLabels.map((t, i) => i * 32) },
    axisLabel: { customValues: timeLabels.map((t, i) => i * 32), formatter: v => timeLabels[v / 32], align: 'left', margin: 7,
      color: '#000', fontSize: 14.5, fontFamily: labelFont }
  },
  yAxis: {
    type: 'value', min: yMin, max: yMax, position: 'right', splitLine: { show: false }, axisLine: { show: false },
    axisTick: { show: true, length: 3, lineStyle: { color: '#000' }, customValues: priceTicks },
    axisLabel: { customValues: priceTicks.concat([lastPrice]), margin: 6, color: '#000', fontSize: 14.5, fontFamily: labelFont,
      padding: [3, 0, 0, 0],
      formatter: v => v === lastPrice ? '{cur|' + v.toFixed(2) + '}' : v.toFixed(2),
      rich: { cur: { color: '#fff', backgroundColor: '#000', fontSize: 14.5, fontFamily: labelFont, padding: [2, 6, 2, 5] } } }
  },
  graphic: graphic,
  series: series
});
</script>
</body>
</html>
